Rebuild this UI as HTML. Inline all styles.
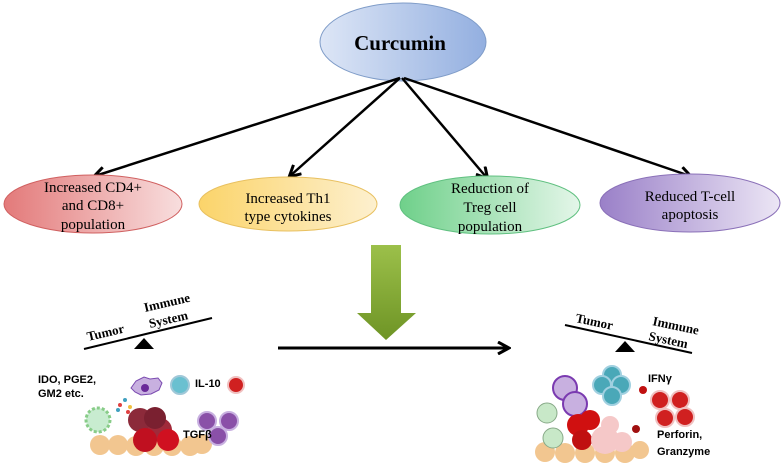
<!DOCTYPE html>
<html><head><meta charset="utf-8"><style>
html,body{margin:0;padding:0;background:#fff;}
svg{display:block;font-family:"Liberation Serif",serif;}
.s{font-family:"Liberation Sans",sans-serif;font-weight:bold;font-size:11px;}
</style></head><body>
<svg width="784" height="476" viewBox="0 0 784 476">
<defs>
<linearGradient id="gb" x1="0" x2="1"><stop offset="0" stop-color="#dde6f6"/><stop offset="1" stop-color="#93afe0"/></linearGradient>
<linearGradient id="gr" x1="0" x2="1"><stop offset="0" stop-color="#e37a7a"/><stop offset="1" stop-color="#f8dede"/></linearGradient>
<linearGradient id="gy" x1="0" x2="1"><stop offset="0" stop-color="#fbd46a"/><stop offset="1" stop-color="#fdf0cf"/></linearGradient>
<linearGradient id="gg" x1="0" x2="1"><stop offset="0" stop-color="#6fd08a"/><stop offset="1" stop-color="#e4f6e9"/></linearGradient>
<linearGradient id="gp" x1="0" x2="1"><stop offset="0" stop-color="#9a80c8"/><stop offset="1" stop-color="#ece6f5"/></linearGradient>
<linearGradient id="ga" x1="0" y1="0" x2="0" y2="1"><stop offset="0" stop-color="#9cc04a"/><stop offset="1" stop-color="#6e9425"/></linearGradient>
<marker id="ah" markerWidth="14" markerHeight="14" refX="11" refY="7" orient="auto" markerUnits="userSpaceOnUse"><path d="M1,1 L12,7 L1,13" fill="none" stroke="#000" stroke-width="3"/></marker>
</defs>
<ellipse cx="403" cy="42" rx="83" ry="39" fill="url(#gb)" stroke="#7f9cc8"/>
<text x="400" y="50" text-anchor="middle" font-size="21" font-weight="bold">Curcumin</text>
<g stroke="#000" stroke-width="2.5" marker-end="url(#ah)">
<line x1="400" y1="78" x2="95" y2="176"/>
<line x1="400" y1="78" x2="290" y2="176"/>
<line x1="402" y1="78" x2="487" y2="178"/>
<line x1="404" y1="78" x2="690" y2="176"/>
</g>
<ellipse cx="93" cy="204" rx="89" ry="29" fill="url(#gr)" stroke="#d06060"/>
<ellipse cx="288" cy="204" rx="89" ry="27" fill="url(#gy)" stroke="#e8c060"/>
<ellipse cx="490" cy="205" rx="90" ry="29" fill="url(#gg)" stroke="#60c080"/>
<ellipse cx="690" cy="203" rx="90" ry="29" fill="url(#gp)" stroke="#8a70b8"/>
<g font-size="15" text-anchor="middle">
<text x="93" y="192">Increased CD4+</text><text x="93" y="210">and CD8+</text><text x="93" y="229">population</text>
<text x="288" y="203">Increased Th1</text><text x="288" y="221">type cytokines</text>
<text x="490" y="193">Reduction of</text><text x="490" y="212">Treg cell</text><text x="490" y="231">population</text>
<text x="690" y="201">Reduced T-cell</text><text x="690" y="219">apoptosis</text>
</g>
<path d="M371,245 H401 V313 H416 L386,340 L357,313 H371 Z" fill="url(#ga)"/>
<line x1="278" y1="348" x2="508" y2="348" stroke="#000" stroke-width="3" marker-end="url(#ah)"/>
<line x1="84" y1="349" x2="212" y2="318" stroke="#000" stroke-width="2"/>
<path d="M134,349 L144,338 L154,349Z" fill="#000"/>
<text x="88" y="341" font-size="13" font-weight="bold" transform="rotate(-13 88 341)">Tumor</text>
<text x="145" y="312" font-size="13" font-weight="bold" transform="rotate(-13 145 312)">Immune</text>
<text x="150" y="328" font-size="13" font-weight="bold" transform="rotate(-13 150 328)">System</text>
<text class="s" x="38" y="383">IDO, PGE2,</text><text class="s" x="38" y="397">GM2 etc.</text>
<text class="s" x="195" y="387" font-size="10">IL-10</text>
<g>
<circle cx="100" cy="445" r="10" fill="#f2c690"/><circle cx="118" cy="445" r="10" fill="#f2c690"/><circle cx="136" cy="446" r="10" fill="#f2c690"/><circle cx="154" cy="446" r="10" fill="#f2c690"/><circle cx="172" cy="446" r="10" fill="#f2c690"/><circle cx="190" cy="446" r="10" fill="#f2c690"/><circle cx="202" cy="444" r="10" fill="#f2c690"/>
<circle cx="98" cy="420" r="12" fill="#c8ecd0" stroke="#8c8" stroke-width="3" stroke-dasharray="3 2"/>
<circle cx="140" cy="420" r="12" fill="#8c2a3a"/><circle cx="160" cy="430" r="12" fill="#a02a3a"/><circle cx="145" cy="440" r="12" fill="#c01020"/><circle cx="168" cy="440" r="11" fill="#d01020"/><circle cx="155" cy="418" r="11" fill="#7a2030"/>
<path d="M131,388 l5,-7 l8,-4 l6,2 l8,-1 l4,5 l-3,7 l-8,4 l-10,1 l-6,-3z" fill="#c8b0e0" stroke="#7a4ab0"/><circle cx="145" cy="388" r="4" fill="#6a2a9a"/>
<circle cx="120" cy="405" r="2" fill="#e04040"/><circle cx="125" cy="400" r="2" fill="#40a0c0"/><circle cx="130" cy="407" r="2" fill="#f0c040"/><circle cx="118" cy="410" r="2" fill="#40a0c0"/><circle cx="128" cy="412" r="2" fill="#e04040"/>
<circle cx="180" cy="385" r="9" fill="#6ac0d0" stroke="#a0c8d8" stroke-width="2"/>
<circle cx="236" cy="385" r="8" fill="#d02020" stroke="#f0c0c0" stroke-width="2"/>
<circle cx="207" cy="421" r="9" fill="#8a50a8" stroke="#c8b0e0" stroke-width="2"/><circle cx="229" cy="421" r="9" fill="#8a50a8" stroke="#c8b0e0" stroke-width="2"/><circle cx="218" cy="436" r="9" fill="#8a50a8" stroke="#c8b0e0" stroke-width="2"/>
</g>
<text class="s" x="183" y="438" font-size="10">TGFβ</text>
<line x1="565" y1="325" x2="692" y2="353" stroke="#000" stroke-width="2"/>
<path d="M615,352 L625,341 L635,352Z" fill="#000"/>
<text x="575" y="322" font-size="13" font-weight="bold" transform="rotate(12 575 322)">Tumor</text>
<text x="652" y="325" font-size="13" font-weight="bold" transform="rotate(12 652 325)">Immune</text>
<text x="648" y="340" font-size="13" font-weight="bold" transform="rotate(12 648 340)">System</text>
<text class="s" x="648" y="382" font-size="10">IFNγ</text>
<text class="s" x="657" y="438" font-size="10">Perforin,</text><text class="s" x="657" y="455" font-size="10">Granzyme</text>
<g>
<circle cx="545" cy="452" r="10" fill="#f2c690"/><circle cx="565" cy="453" r="10" fill="#f2c690"/><circle cx="585" cy="453" r="10" fill="#f2c690"/><circle cx="605" cy="453" r="10" fill="#f2c690"/><circle cx="625" cy="453" r="10" fill="#f2c690"/><circle cx="640" cy="450" r="9" fill="#f2c690"/>
<circle cx="565" cy="388" r="12" fill="#c8b0e0" stroke="#7a3ab0" stroke-width="2"/><circle cx="575" cy="404" r="12" fill="#c8b0e0" stroke="#7a3ab0" stroke-width="2"/>
<circle cx="612" cy="375" r="9" fill="#4aa8b8" stroke="#a0d0e0" stroke-width="2"/><circle cx="602" cy="385" r="9" fill="#4aa8b8" stroke="#a0d0e0" stroke-width="2"/><circle cx="621" cy="385" r="9" fill="#4aa8b8" stroke="#a0d0e0" stroke-width="2"/><circle cx="612" cy="396" r="9" fill="#4aa8b8" stroke="#a0d0e0" stroke-width="2"/>
<circle cx="547" cy="413" r="10" fill="#c8e8c8" stroke="#8a8"/><circle cx="553" cy="438" r="10" fill="#c8e8c8" stroke="#8a8"/>
<circle cx="578" cy="425" r="11" fill="#d01010"/><circle cx="590" cy="420" r="10" fill="#d01010"/><circle cx="582" cy="440" r="10" fill="#c01010"/>
<circle cx="605" cy="440" r="14" fill="#f5c8c8"/><circle cx="610" cy="425" r="9" fill="#f5c8c8"/><circle cx="622" cy="442" r="10" fill="#f5c8c8"/>
<circle cx="660" cy="400" r="9" fill="#d02020" stroke="#f0c0c0" stroke-width="2"/><circle cx="680" cy="400" r="9" fill="#d02020" stroke="#f0c0c0" stroke-width="2"/><circle cx="665" cy="418" r="9" fill="#d02020" stroke="#f0c0c0" stroke-width="2"/><circle cx="685" cy="417" r="9" fill="#d02020" stroke="#f0c0c0" stroke-width="2"/>
<circle cx="643" cy="390" r="4" fill="#c01010"/><circle cx="636" cy="429" r="4" fill="#a01010"/>
</g>
</svg>
</body></html>
